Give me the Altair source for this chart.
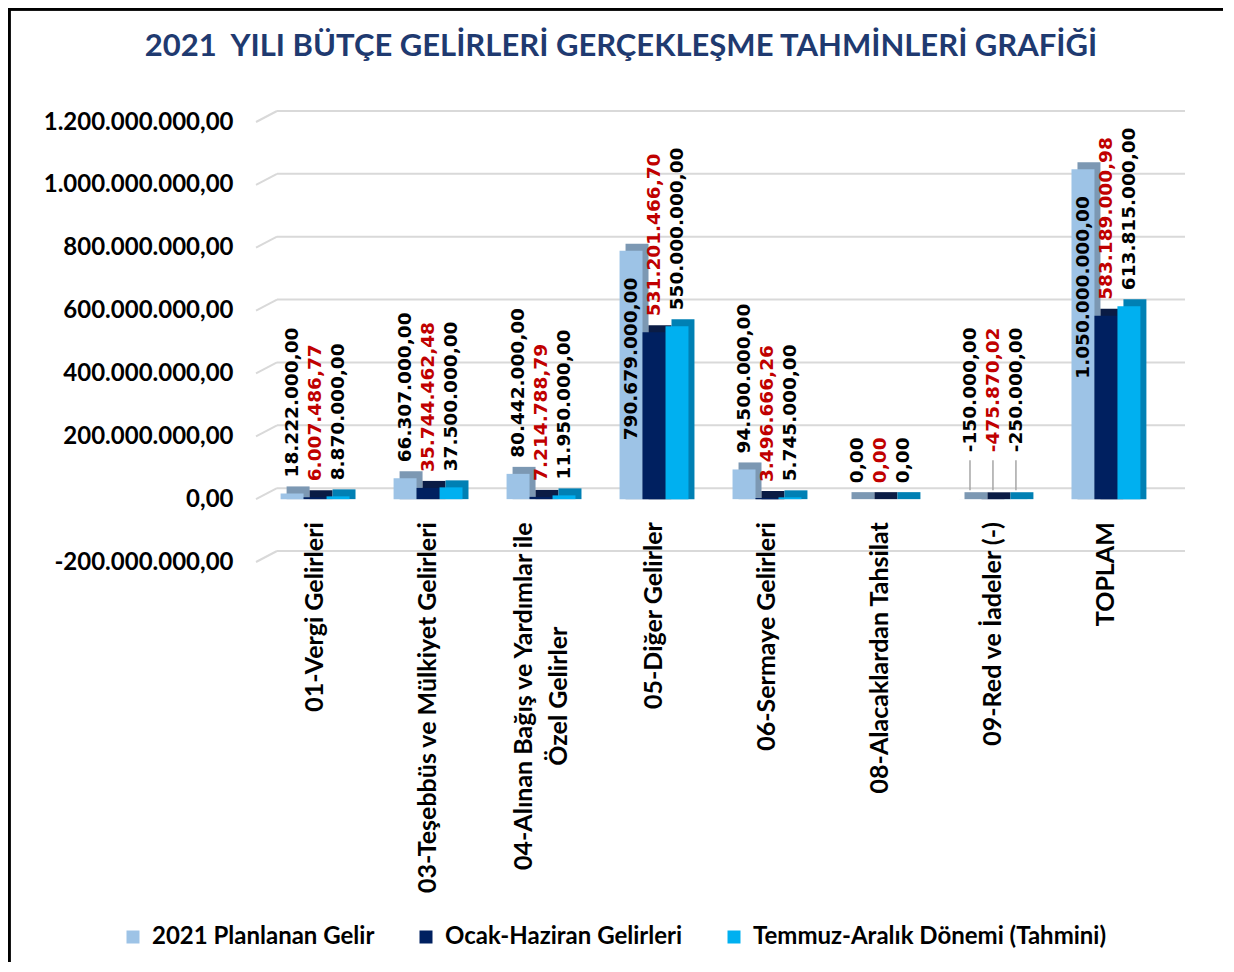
import altair as alt
import pandas as pd

# ---------------- data ----------------
title_text = "2021\u00a0 YILI BÜTÇE GELİRLERİ GERÇEKLEŞME TAHMİNLERİ GRAFİĞİ"
categories = [
    "01-Vergi Gelirleri",
    "03-Teşebbüs ve Mülkiyet Gelirleri",
    "04-Alınan Bağış ve Yardımlar ile\nÖzel Gelirler",
    "05-Diğer Gelirler",
    "06-Sermaye Gelirleri",
    "08-Alacaklardan Tahsilat",
    "09-Red ve İadeler (-)",
    "TOPLAM",
]
series = ["2021 Planlanan Gelir", "Ocak-Haziran Gelirleri", "Temmuz-Aralık Dönemi (Tahmini)"]
planlanan = [18222000.00, 66307000.00, 80442000.00, 790679000.00, 94500000.00, 0.00, -150000.00, 1050000000.00]
ocak_haziran = [6007486.77, 35744462.48, 7214788.79, 531201466.70, 3496666.26, 0.00, -475870.02, 583189000.98]
temmuz_aralik = [8870000.00, 37500000.00, 11950000.00, 550000000.00, 5745000.00, 0.00, -250000.00, 613815000.00]
y_ticks = [-200000000, 0, 200000000, 400000000, 600000000, 800000000, 1000000000, 1200000000]

bar_colors = ["#9DC3E6", "#002060", "#00B0F0"]
side_colors = ["#7C98B3", "#0A1C45", "#0080B4"]

# ---------------- layout ----------------
W, H = 905, 440
PAD_L, PAD_T = 250, 114
Y_MIN, Y_MAX = -200000000, 1200000000
P_IN, P_OUT = 0.39, 0.2
step = W / (len(categories) - P_IN + 2 * P_OUT)
bw = step * (1 - P_IN)
unit = (Y_MAX - Y_MIN) / H  # value per pixel
LABEL_SIZE = 18.5
CAT_SIZE = 25


def tr(v):
    s = f"{v:,.2f}"
    return s.replace(",", "#").replace(".", ",").replace("#", ".")


def text_len(s):
    w = 0.0
    for ch in s:
        if ch.isdigit():
            w += 0.696
        elif ch == "-":
            w += 0.415
        else:
            w += 0.38
    return w * LABEL_SIZE


rows = []
for i, c in enumerate(categories):
    for s, vals in zip(series, [planlanan, ocak_haziran, temmuz_aralik]):
        v = vals[i]
        lab = tr(v)
        L = text_len(lab)
        if v < 0:
            pos = "neg"
        elif v + (16 + L) * unit > Y_MAX:
            pos = "inside"
        else:
            pos = "out"
        rows.append({"cat": c, "series": s, "value": v, "label": lab, "pos": pos,
                     "red": s == series[1], "zero": 0})
df = pd.DataFrame(rows)
cat_df = pd.DataFrame({"cat": categories, "zero": [0] * len(categories),
                       "multi": ["\n" in c for c in categories]})
grid_df = pd.DataFrame({"tick": y_ticks})
title_df = pd.DataFrame({"t": [title_text]})

x_enc = alt.X("cat:N", sort=categories, axis=None,
              scale=alt.Scale(paddingInner=P_IN, paddingOuter=P_OUT, round=False))
y_scale = alt.Scale(domain=[Y_MIN, Y_MAX], nice=False, zero=False)

base = alt.Chart(df)

# y axis (labels only)
axis_layer = alt.Chart(grid_df).mark_rule(opacity=0).encode(
    y=alt.Y("tick:Q", scale=y_scale,
            axis=alt.Axis(values=y_ticks, format=",.2f", grid=False, ticks=False, domain=False,
                          labelFont="Lato", labelFontWeight="bold", labelFontSize=24,
                          labelLimit=0, labelColor="#000000", labelPadding=25, title=None)),
)

# gridlines (back wall) + diagonal floor edges
grid_h = alt.Chart(grid_df).mark_rule(color="#D9D9D9", strokeWidth=2, yOffset=-11).encode(
    y=alt.Y("tick:Q", scale=y_scale),
    x=alt.value(19), x2=alt.value(W + 22),
)
grid_d = alt.Chart(grid_df).mark_rule(color="#D9D9D9", strokeWidth=2, y2Offset=-11).encode(
    y=alt.Y("tick:Q", scale=y_scale), y2="tick:Q",
    x=alt.value(-2), x2=alt.value(19),
)

# 3D side/top faces
shadow = base.mark_bar(yOffset=-7).encode(
    x=x_enc,
    xOffset=alt.XOffset("series:N", sort=series,
                        scale=alt.Scale(domain=series, range=[6, bw + 6])),
    y=alt.Y("value:Q", scale=y_scale),
    y2="zero:Q",
    color=alt.Color("series:N", scale=alt.Scale(domain=series, range=side_colors), legend=None),
)

front = base.mark_bar().encode(
    x=x_enc,
    xOffset=alt.XOffset("series:N", sort=series, scale=alt.Scale(domain=series, range=[0, bw])),
    y=alt.Y("value:Q", scale=y_scale),
    y2="zero:Q",
    color=alt.Color("series:N", scale=alt.Scale(domain=series, range=bar_colors),
                    legend=alt.Legend(orient="none", legendX=-137, legendY=803,
                                      direction="horizontal", title=None,
                                      symbolType="square", symbolSize=169,
                                      symbolStrokeWidth=0, labelLimit=0,
                                      labelFont="Lato", labelFontWeight="bold",
                                      labelFontSize=24, labelColor="#000000",
                                      labelOffset=7, columnPadding=39)),
)

text_layers = []
for pos, align, dx in [("out", "left", 16), ("neg", "left", 47), ("inside", "right", -27)]:
    for red in [False, True]:
        t = base.transform_filter(
            f"datum.pos == '{pos}' && datum.red == {'true' if red else 'false'}"
        ).mark_text(
            angle=270, align=align, baseline="middle", dx=dx,
            font="DejaVu Sans", fontSize=LABEL_SIZE, fontWeight="bold",
            color="#C00000" if red else "#000000",
        ).encode(
            x=x_enc,
            xOffset=alt.XOffset("series:N", sort=series, scale=alt.Scale(domain=series, range=[0, bw])),
            y=alt.Y("value:Q", scale=y_scale),
            text="label:N",
        )
        text_layers.append(t)

leaders = base.transform_filter("datum.pos == 'neg'").mark_rule(
    color="#A6A6A6", strokeWidth=1.5, yOffset=-9, y2Offset=-39
).encode(
    x=x_enc,
    xOffset=alt.XOffset("series:N", sort=series, scale=alt.Scale(domain=series, range=[0, bw])),
    y=alt.Y("zero:Q", scale=y_scale), y2="zero:Q",
)

cat_single = alt.Chart(cat_df).transform_filter("!datum.multi").mark_text(
    angle=270, align="right", baseline="middle", dx=-23,
    font="Lato", fontWeight="bold", fontSize=CAT_SIZE, color="#000000",
).encode(
    x=x_enc,
    y=alt.Y("zero:Q", scale=y_scale),
    text="cat:N",
)
cat_multi = alt.Chart(cat_df).transform_filter("datum.multi").mark_text(
    angle=270, align="center", baseline="middle", dx=-197, dy=-17, lineBreak="\n",
    lineHeight=35, font="Lato", fontWeight="bold", fontSize=CAT_SIZE, color="#000000",
).encode(
    x=x_enc,
    y=alt.Y("zero:Q", scale=y_scale),
    text="cat:N",
)

title = alt.Chart(title_df).mark_text(
    align="center", baseline="middle", font="Lato", fontWeight="bold",
    fontSize=31, color="#1F3A70",
).encode(
    x=alt.value(621 - 8 - PAD_L), y=alt.value(47 - 8 - PAD_T), text="t:N",
)

border = alt.Chart(cat_df).mark_rect(filled=False, stroke="#000000", strokeWidth=2.5).encode(
    x=alt.value(-PAD_L + 1), x2=alt.value(W + 200),
    y=alt.value(-PAD_T + 1), y2=alt.value(H + 600),
)

chart = alt.layer(
    border, title, grid_d, grid_h, axis_layer, shadow, front, *text_layers, leaders,
    cat_single, cat_multi
).resolve_scale(
    color="independent", xOffset="independent"
).properties(
    width=W, height=H,
    autosize=alt.AutoSizeParams(type="none"),
    padding={"left": PAD_L, "top": PAD_T, "right": 60, "bottom": 400},
).configure(
    locale={"number": {"decimal": ",", "thousands": ".", "grouping": [3],
                       "currency": ["", ""], "minus": "-"}}
).configure_view(stroke=None)

chart.save("out.html", embed_options={"renderer": "svg", "actions": False})
